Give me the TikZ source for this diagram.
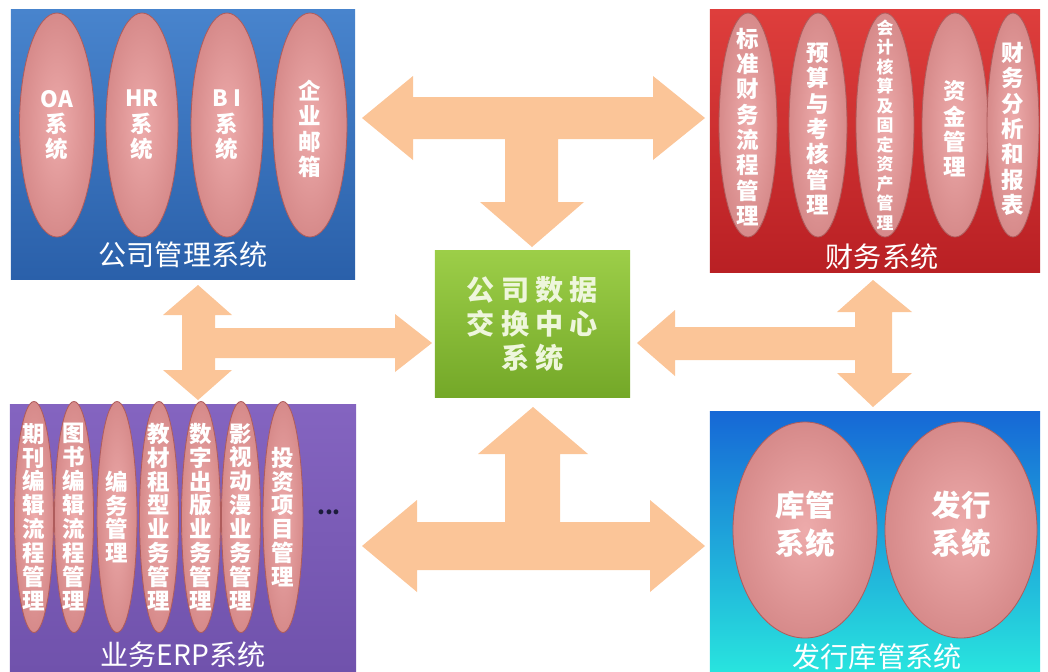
\documentclass[tikz,border=0pt]{standalone}
\usepackage{fontspec}
\newfontfamily\cjk{Noto Sans CJK SC}
\newfontfamily\cjkwide{Noto Sans CJK SC}[LetterSpace=22]
\usepackage{xcolor}
\definecolor{peach}{RGB}{251,197,152}
\definecolor{petal}{RGB}{233,150,150}
\definecolor{petalrim}{RGB}{175,92,92}
\definecolor{mgmttop}{RGB}{72,132,205}
\definecolor{mgmtbot}{RGB}{42,96,170}
\definecolor{fintop}{RGB}{222,62,60}
\definecolor{finbot}{RGB}{185,32,36}
\definecolor{erptop}{RGB}{132,100,192}
\definecolor{erpbot}{RGB}{112,82,172}
\definecolor{disttop}{RGB}{22,104,214}
\definecolor{distbot}{RGB}{40,228,222}
\definecolor{hubtop}{RGB}{156,206,72}
\definecolor{hubbot}{RGB}{116,168,40}
\definecolor{hubtext}{RGB}{238,246,220}
\definecolor{dots}{RGB}{28,28,60}
\usetikzlibrary{shapes.geometric}

\begin{document}
\begin{tikzpicture}[
  x=0.025cm, y=-0.025cm,
  box/.style={rectangle, inner sep=0pt},
  boxlabel/.style={text=white, font=\cjk\fontsize{20}{22}\selectfont},
  petal/.style={ellipse, inner sep=0pt, inner color=petal!80!white, outer color=petal!92!black,
    draw=petalrim, line width=0.6pt},
  slim/.style={petal, minimum width=0.975cm, minimum height=5.775cm},
  bigpetal/.style={petal, minimum height=5.4cm},
  ptext/.style={text=white, align=center, inner sep=0pt, font=\cjk\bfseries\fontsize{16}{18}\selectfont},
  slimtext/.style={ptext, font=\cjk\bfseries\fontsize{16}{17}\selectfont},
  bigtext/.style={ptext, font=\cjk\bfseries\fontsize{21}{27}\selectfont}
]
\useasboundingbox (0,0) rectangle (1048,672);

\node[box, minimum width=8.6cm, minimum height=6.725cm, top color=mgmttop, bottom color=mgmtbot] (mgmt) at (183,144.5) {};
\node[box, minimum width=8.25cm, minimum height=6.55cm, top color=fintop, bottom color=finbot] (fin) at (875,141) {};
\node[box, minimum width=8.65cm, minimum height=6.675cm, top color=erptop, bottom color=erpbot] (erp) at (183,538.5) {};
\node[box, minimum width=8.25cm, minimum height=6.5cm, top color=disttop, bottom color=distbot] (dist) at (875,542) {};
\node[box, minimum width=4.875cm, minimum height=3.65cm, top color=hubtop, bottom color=hubbot,
  text=hubtext, align=center, font=\cjkwide\bfseries\fontsize{20}{24}\selectfont] (hub) at (532.5,324) {公司数据\\交换中心\\系统};

\node[petal, minimum width=1.875cm, minimum height=5.6cm] (oa) at (57,125) {};
\node[petal, minimum width=1.8cm, minimum height=5.6cm] (hr) at (142,125) {};
\node[petal, minimum width=1.8cm, minimum height=5.6cm] (bi) at (227,125) {};
\node[petal, minimum width=1.85cm, minimum height=5.6cm] (mail) at (310,125) {};
\node[ptext] at (oa) {OA\\系\\统};
\node[ptext] at (hr) {HR\\系\\统};
\node[ptext] at (bi) {B I\\系\\统};
\node[ptext] at ([yshift=-0.1cm]mail) {企\\业\\邮\\箱};
\node[boxlabel] (mgmtlabel) at (183,255) {公司管理系统};

\node[petal, minimum width=1.45cm, minimum height=5.6cm] (std) at (748,125) {};
\node[petal, minimum width=1.45cm, minimum height=5.6cm] (bud) at (818,125) {};
\node[petal, minimum width=1.45cm, minimum height=5.6cm] (acc) at (885,125) {};
\node[petal, minimum width=1.65cm, minimum height=5.6cm] (fund) at (955,125) {};
\node[petal, minimum width=1.3cm, minimum height=5.6cm] (rep) at (1013,125) {};
\node[ptext] at ([yshift=-0.05cm]std) {标\\准\\财\\务\\流\\程\\管\\理};
\node[ptext] at ([yshift=-0.1cm]bud) {预\\算\\与\\考\\核\\管\\理};
\node[ptext, font=\cjk\bfseries\fontsize{12}{13.9}\selectfont] at (acc) {会\\计\\核\\算\\及\\固\\定\\资\\产\\管\\理};
\node[ptext] at ([yshift=-0.1cm]fund) {资\\金\\管\\理};
\node[ptext] at ([yshift=-0.1cm]rep) {财\\务\\分\\析\\和\\报\\表};
\node[boxlabel] (finlabel) at (882,257) {财务系统};

\node[slim] (journal) at (34,517) {};
\node[slim] (book) at (74,517) {};
\node[slim, minimum width=1cm] (editing) at (117,517) {};
\node[slim] (textbook) at (159,517) {};
\node[slim] (digital) at (201,517) {};
\node[slim] (anim) at (241,517) {};
\node[slim, minimum width=1cm] (invest) at (283,517) {};
\node[slimtext] at (journal) {期\\刊\\编\\辑\\流\\程\\管\\理};
\node[slimtext] at (book) {图\\书\\编\\辑\\流\\程\\管\\理};
\node[slimtext] at (editing) {编\\务\\管\\理};
\node[slimtext] at (textbook) {教\\材\\租\\型\\业\\务\\管\\理};
\node[slimtext] at (digital) {数\\字\\出\\版\\业\\务\\管\\理};
\node[slimtext] at (anim) {影\\视\\动\\漫\\业\\务\\管\\理};
\node[slimtext] at (invest) {投\\资\\项\\目\\管\\理};
\node[text=dots, font=\cjk\bfseries\fontsize{16}{18}\selectfont] (more) at (329,512) {...};
\node[boxlabel] (erplabel) at (183,655) {业务ERP系统};

\node[bigpetal, minimum width=3.6cm] (stock) at (805,530) {};
\node[bigpetal, minimum width=3.8cm] (sales) at (961,530) {};
\node[bigtext] at ([yshift=0.15cm]stock) {库管\\系统};
\node[bigtext] at ([yshift=0.15cm]sales) {发行\\系统};
\node[boxlabel] (distlabel) at (877,657) {发行库管系统};

\fill[peach] (362,118) -- (413,76) -- (413,97) -- (653,97) -- (653,76) -- (705,118) -- (653,160) -- (653,139)
  -- (558,139) -- (558,202) -- (584,202) -- (532,247) -- (480,202) -- (505,202) -- (505,139) -- (413,139) -- (413,160) -- cycle;
\fill[peach] (362,546) -- (417,500) -- (417,522) -- (505,522) -- (505,454) -- (478,454) -- (533,407) -- (588,454)
  -- (560,454) -- (560,522) -- (650,522) -- (650,500) -- (705,546) -- (650,592) -- (650,570) -- (417,570) -- (417,592) -- cycle;
\fill[peach] (198,285) -- (232,315) -- (215,315) -- (215,328) -- (395,328) -- (395,314) -- (432,343) -- (395,372)
  -- (395,358) -- (215,358) -- (215,370) -- (232,370) -- (198,400) -- (163,370) -- (182,370) -- (182,315) -- (163,315) -- cycle;
\fill[peach] (873,280) -- (912,312) -- (892,312) -- (892,373) -- (912,373) -- (873,407) -- (837,373) -- (855,373)
  -- (855,360) -- (675,360) -- (675,376) -- (637,343) -- (675,310) -- (675,327) -- (855,327) -- (855,312) -- (837,312) -- cycle;
\end{tikzpicture}
\end{document}
